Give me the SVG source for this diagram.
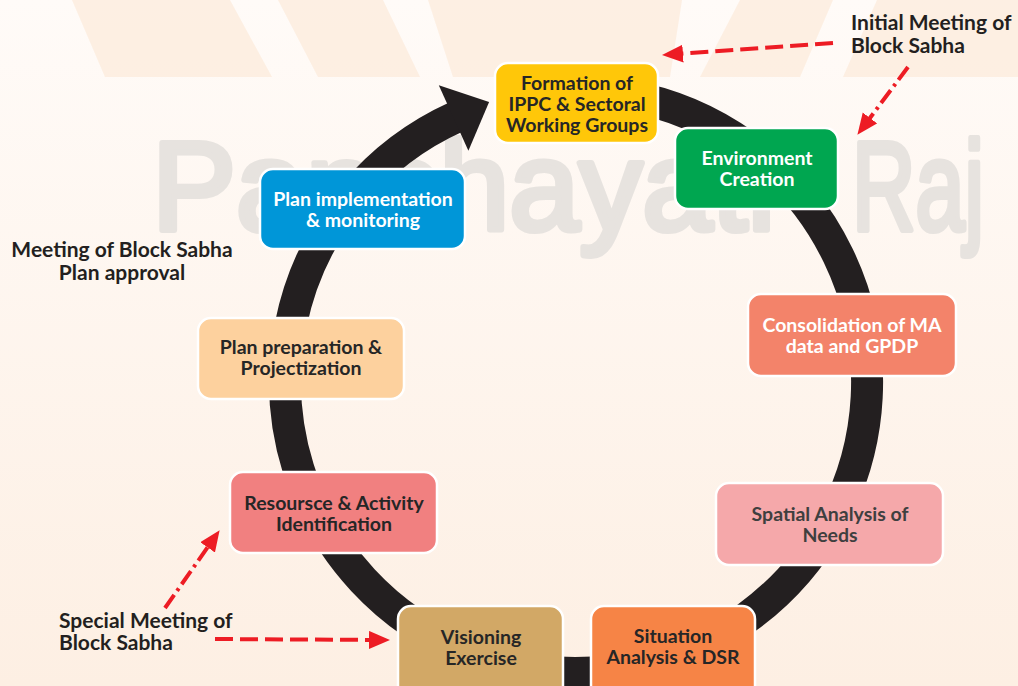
<svg xmlns="http://www.w3.org/2000/svg" width="1018" height="686" viewBox="0 0 1018 686">
  <defs>
    <linearGradient id="bg" x1="0" y1="0" x2="0" y2="1">
      <stop offset="0" stop-color="#fffbf8"/>
      <stop offset="1" stop-color="#fdefe3"/>
    </linearGradient>
    <marker id="redHead" markerUnits="userSpaceOnUse" markerWidth="22" markerHeight="20" refX="14" refY="9" orient="auto">
      <path d="M0,0 L21,9 L0,18 Z" fill="#ed1c24"/>
    </marker>
    <style>
      .band { fill: #fce6d2; opacity: 0.55; }
      .wm { font-family: "Liberation Sans", Arial, sans-serif; font-size: 126px; fill: #e7e3df; stroke: #e7e3df; stroke-width: 6; stroke-linejoin: round; }
      .ring { fill: none; stroke: #231f20; stroke-width: 32; }
      .red { fill: none; stroke: #ed1c24; stroke-width: 4; }
      .dash { stroke-dasharray: 18 7; }
      .dashdot { stroke-dasharray: 16 5 3 5; }
      .box { stroke: #ffffff; stroke-width: 2.5; }
      .lbl { font-family: Lato, "Open Sans", "Liberation Sans", sans-serif; font-weight: 700; font-size: 19.5px; text-anchor: middle; }
      .side { font-family: Lato, "Open Sans", "Liberation Sans", sans-serif; font-weight: 700; font-size: 21px; fill: #231f20; }
      .dark { fill: #262626; }
      .white { fill: #ffffff; }
      .grey { fill: #3f3f3f; }
    </style>
  </defs>

  <rect x="0" y="0" width="1018" height="686" fill="url(#bg)"/>
  <g id="background-bands">
    <polygon class="band" points="72,0 230,0 272,77 105,77"/>
    <polygon class="band" points="278,0 383,0 420,77 318,77"/>
    <polygon class="band" points="428,0 682,0 670,77 453,77"/>
    <polygon class="band" points="740,0 833,0 800,77 700,77"/>
    <polygon class="band" points="877,0 1018,0 1018,77 843,77"/>
  </g>
  <text class="wm" y="230"><tspan x="152">Panchayati</tspan></text>
  <text class="wm" y="230" x="852" textLength="132" lengthAdjust="spacingAndGlyphs">Raj</text>

  <g id="connectors">
    <path class="ring" d="M 626.5 95.4 A 291 291 0 1 1 456.3 116.8"/>
    <polygon points="438.8,85.2 489.1,102 468.4,150.8" fill="#231f20"/>
    <line class="red dash" x1="833" y1="43" x2="669" y2="54.6" marker-end="url(#redHead)"/>
    <line class="red dashdot" x1="908" y1="67" x2="861.6" y2="129.2" marker-end="url(#redHead)"/>
    <line class="red dashdot" x1="165" y1="608" x2="215.6" y2="535.9" marker-end="url(#redHead)"/>
    <line class="red dash" x1="215" y1="639" x2="383" y2="640" marker-end="url(#redHead)"/>
  </g>

  <g id="node-formation">
    <rect class="box" x="495" y="63" width="163" height="80" rx="13" fill="#ffc709"/>
    <text class="lbl dark" x="577" y="90">Formation of</text>
    <text class="lbl dark" x="577" y="111">IPPC &amp; Sectoral</text>
    <text class="lbl dark" x="577" y="132">Working Groups</text>
  </g>
  <g id="node-environment">
    <rect class="box" x="675" y="128" width="163" height="81" rx="13" fill="#00a650"/>
    <text class="lbl white" x="757" y="165">Environment</text>
    <text class="lbl white" x="757" y="186">Creation</text>
  </g>
  <g id="node-consolidation">
    <rect class="box" x="748" y="294" width="208" height="82" rx="13" fill="#f3836a"/>
    <text class="lbl white" x="852" y="332">Consolidation of MA</text>
    <text class="lbl white" x="852" y="353">data and GPDP</text>
  </g>
  <g id="node-spatial">
    <rect class="box" x="716" y="483" width="227" height="82" rx="13" fill="#f5a8aa"/>
    <text class="lbl grey" x="830" y="521">Spatial Analysis of</text>
    <text class="lbl grey" x="830" y="542">Needs</text>
  </g>
  <g id="node-situation">
    <rect class="box" x="591" y="606" width="164" height="100" rx="13" fill="#f68446"/>
    <text class="lbl dark" x="673" y="643">Situation</text>
    <text class="lbl dark" x="673" y="664">Analysis &amp; DSR</text>
  </g>
  <g id="node-visioning">
    <rect class="box" x="398" y="606" width="165" height="100" rx="13" fill="#d2a866"/>
    <text class="lbl dark" x="481" y="644">Visioning</text>
    <text class="lbl dark" x="481" y="665">Exercise</text>
  </g>
  <g id="node-resource">
    <rect class="box" x="230" y="472" width="207" height="81" rx="13" fill="#f18080"/>
    <text class="lbl dark" x="334" y="510">Resoursce &amp; Activity</text>
    <text class="lbl dark" x="334" y="531">Identification</text>
  </g>
  <g id="node-plan-preparation">
    <rect class="box" x="198" y="318" width="206" height="81" rx="13" fill="#fdd19e"/>
    <text class="lbl dark" x="301" y="354">Plan preparation &amp;</text>
    <text class="lbl dark" x="301" y="375">Projectization</text>
  </g>
  <g id="node-plan-implementation">
    <rect class="box" x="260" y="169" width="205" height="80" rx="13" fill="#0096d8"/>
    <text class="lbl white" x="363" y="206">Plan implementation</text>
    <text class="lbl white" x="363" y="227">&amp; monitoring</text>
  </g>

  <g id="label-initial-meeting">
    <text class="side" x="851" y="30">Initial Meeting of</text>
    <text class="side" x="851" y="53">Block Sabha</text>
  </g>
  <g id="label-plan-approval">
    <text class="side" x="122" y="257" text-anchor="middle">Meeting of Block Sabha</text>
    <text class="side" x="122" y="280" text-anchor="middle">Plan approval</text>
  </g>
  <g id="label-special-meeting">
    <text class="side" x="59" y="628">Special Meeting of</text>
    <text class="side" x="59" y="650">Block Sabha</text>
  </g>
</svg>
